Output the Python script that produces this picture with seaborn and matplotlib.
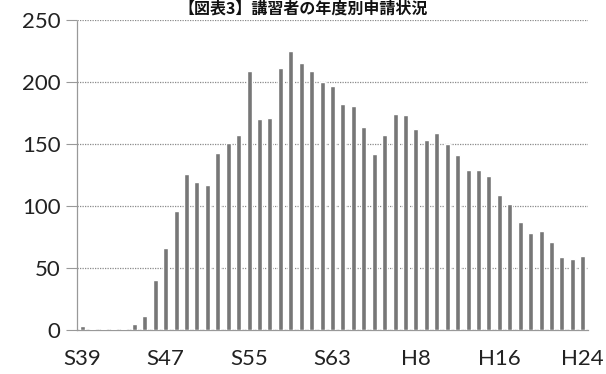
import matplotlib
matplotlib.use("Agg")
import matplotlib.pyplot as plt
import seaborn as sns
import pandas as pd
import numpy as np

# Fiscal years: Showa 39 .. Showa 63, then Heisei 1 .. Heisei 24
years = [f"S{y}" for y in range(39, 64)] + [f"H{y}" for y in range(1, 25)]
counts = [
    3, 1, 1, 1, 1, 5, 11, 40, 66, 96,          # S39-S48
    126, 119, 117, 143, 151, 157, 209, 170, 171, 211,  # S49-S58
    225, 215, 209, 200, 197,                    # S59-S63
    182, 181, 164, 142, 157, 174, 173, 162, 153, 159,  # H1-H10
    150, 141, 129, 129, 124, 109, 102, 87, 78, 80,     # H11-H20
    71, 59, 57, 60,                              # H21-H24
]
tick_labels = ["S39", "S47", "S55", "S63", "H8", "H16", "H24"]
title = "【図表3】講習者の年度別申請状況"

df = pd.DataFrame({"year": years, "count": counts})

sns.set_theme(style="white")
plt.rcParams["font.family"] = ["Lato", "Noto Sans CJK JP", "DejaVu Sans"]

fig = plt.figure(figsize=(6.06, 3.74), dpi=100)
ax = fig.add_axes([77 / 606, 1 - 330 / 374, (588 - 77) / 606, (330 - 20) / 374])

sns.barplot(data=df, x="year", y="count", color="#777777", width=0.48,
            saturation=1, ax=ax, zorder=3)

ax.set_ylim(0, 250)
ax.set_xlim(-0.5, len(years) - 0.5)
ax.set_yticks(np.arange(0, 251, 50))
ax.yaxis.grid(True, linestyle=(0, (1, 1)), color="#8a8a8a", linewidth=0.9, zorder=0)
ax.set_xlabel("")
ax.set_ylabel("")

# Category labels every 8 years, minor ticks at category boundaries
pos = [years.index(t) for t in tick_labels]
ax.set_xticks(pos)
ax.set_xticklabels(tick_labels)
ax.set_xticks(np.arange(-0.5, len(years), 1), minor=True)
ax.tick_params(axis="x", which="major", length=0, pad=14, labelsize=16, colors="#222222")
ax.tick_params(axis="x", which="minor", length=6, width=0.8, color="#999999", direction="out")
ax.tick_params(axis="y", length=8, width=0.8, color="#999999", labelsize=16,
               colors="#222222", pad=4, direction="out", left=True)

for s in ["top", "right"]:
    ax.spines[s].set_visible(False)
ax.spines["left"].set_color("#999999")
ax.spines["left"].set_linestyle((0, (1, 1)))
ax.spines["left"].set_linewidth(0.9)
ax.spines["bottom"].set_color("#999999")
ax.spines["bottom"].set_linewidth(0.9)

fig.text(0.5, 1 - 1 / 374, title, ha="center", va="top", fontsize=11.5,
         fontweight="bold", family=["Noto Sans CJK JP", "DejaVu Sans"], color="#111111")

fig.savefig("out.png", dpi=100, facecolor="white")
